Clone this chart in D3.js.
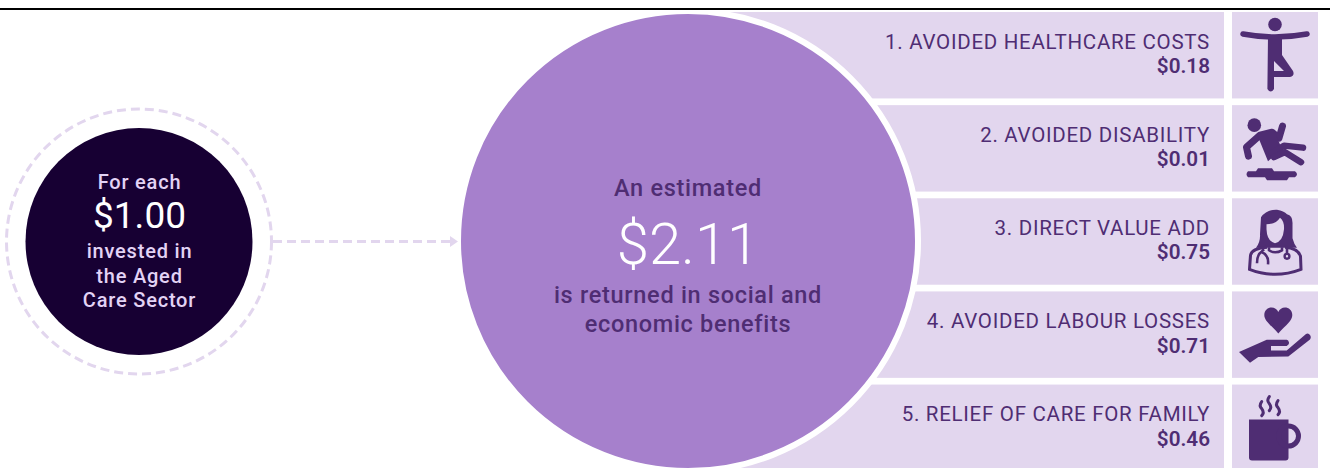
<!DOCTYPE html>
<html>
<head>
<meta charset="utf-8">
<script src="https://cdn.jsdelivr.net/npm/d3@7"></script>
<style>
html,body{margin:0;padding:0;background:#fff;}
svg{display:block;}
text{font-family:Roboto,"Liberation Sans",sans-serif;}
</style>
</head>
<body>
<svg id="chart" width="1330" height="468"></svg>
<script>
// Social return on investment: one dollar in, five benefit streams out.
const benefitNames = [
  "1. AVOIDED HEALTHCARE COSTS",
  "2. AVOIDED DISABILITY",
  "3. DIRECT VALUE ADD",
  "4. AVOIDED LABOUR LOSSES",
  "5. RELIEF OF CARE FOR FAMILY"
];
const benefitValues = [0.18, 0.01, 0.75, 0.71, 0.46];
const investedValue = 1.00;
const investedLines = ["invested in", "the Aged", "Care Sector"];
const returnLines = ["is returned in social and", "economic benefits"];

const LILAC = "#E2D6EE", PURPLE = "#4F2D73", MID = "#A680CC", NIGHT = "#170033", PALE = "#E3D3F5";
const money = d3.format("$.2f");
const svg = d3.select("#chart");

// Benefit rows
const rowY = d3.scaleBand().domain(benefitNames).range([12, 471]).paddingInner(0.072).paddingOuter(0).align(0);
const rows = svg.selectAll("g.row").data(benefitNames).join("g").attr("class", "row")
  .attr("transform", d => `translate(0,${rowY(d)})`);
rows.append("rect").attr("x", 700).attr("width", 524).attr("height", rowY.bandwidth()).attr("fill", LILAC);
rows.append("rect").attr("x", 1232).attr("width", 86).attr("height", rowY.bandwidth()).attr("fill", LILAC);
rows.append("text").attr("x", 1210).attr("y", 36.6).attr("text-anchor", "end")
  .attr("font-size", 20.5).attr("fill", PURPLE).attr("letter-spacing", 0.72).attr("font-weight", 400).text(d => d);
rows.append("text").attr("x", 1210).attr("y", 61.2).attr("text-anchor", "end")
  .attr("font-size", 20.7).attr("font-weight", 600).attr("fill", PURPLE)
  .text((d, i) => money(benefitValues[i]));

// Pictograms, each in an 86-unit box beside its row
const limb = (g, d, w) => g.append("path").attr("d", d).attr("fill", "none").attr("stroke", PURPLE)
  .attr("stroke-width", w).attr("stroke-linecap", "round").attr("stroke-linejoin", "round");
const icons = [
  g => { // balancing figure
    g.append("circle").attr("cx", 43).attr("cy", 12.5).attr("r", 6.8).attr("fill", PURPLE);
    limb(g, "M11 22 Q43 28 75 22", 5.5);
    g.append("path").attr("d", "M36 24 L50 24 L50 43 L61 59 Q63 64 58 65 L42 65 L42 77 Q38.7 82 35.4 77 Z M42 49 L42 59 L52 59 Z").attr("fill", PURPLE).attr("fill-rule", "evenodd");
  },
  g => { // slipping figure and puddle
    g.append("circle").attr("cx", 22.3).attr("cy", 20).attr("r", 6.8).attr("fill", PURPLE);
    limb(g, "M16.5 51 L14.5 42 L28 30 L40 27 L47 33 L50.5 21", 7);
    g.append("path").attr("d", "M25 29 L42 25 L50 44 L36 56 Z").attr("fill", PURPLE);
    limb(g, "M40 48 L52 40.5 L71 42.5", 6.5);
    limb(g, "M42 52 L53 47 L69 57", 6.5);
    g.append("path").attr("d", "M16 66 Q13 69 16 72 L33 72 L35 75 L55 75 L57 72 L63 72 Q67 69 63 66 L42 66 L40 63 L26 63 L24 66 Z").attr("fill", PURPLE);
  },
  g => { // clinician with stethoscope
    g.append("path").attr("d", "M29 19 Q35 11 45 11.5 Q52 12.5 55 16 Q61 17 60.5 26 L60.5 40 Q62 46 65 49.5 L24 49.5 Q28.5 44 28 36 Z").attr("fill", PURPLE);
    g.append("path").attr("d", "M34.5 26 Q44 26 48 19.5 Q52.5 23 52 31 Q51 43 43 45 Q35 43 34.5 31 Z").attr("fill", LILAC);
    g.append("path").attr("d", "M35 49 Q20 50 18.5 57 L17.5 71 Q43 81 69 71 L68.5 58 Q66 50 53 49").attr("fill", "none").attr("stroke", PURPLE).attr("stroke-width", 3);
    g.append("path").attr("d", "M37 49 L37 52 Q43 56 50 52 L50 49").attr("fill", "none").attr("stroke", PURPLE).attr("stroke-width", 2.6);
    g.append("path").attr("d", "M32 51 L30 53 Q25 56 25 65 M30 54 Q37 57 36 66").attr("fill", "none").attr("stroke", PURPLE).attr("stroke-width", 2.6);
    g.append("path").attr("d", "M55 49 L55 55").attr("stroke", PURPLE).attr("stroke-width", 2.6);
    g.append("circle").attr("cx", 55).attr("cy", 58).attr("r", 2.4).attr("fill", "none").attr("stroke", PURPLE).attr("stroke-width", 2.4);
  },
  g => { // open hand holding a heart
    g.append("path").attr("d", "M46.3 42 C38 33 32.3 29 32.3 23.5 C32.3 18.5 36 16 39.5 16 C42.5 16 45 17.5 46.3 20.5 C47.6 17.5 50 16 53 16 C56.6 16 60.3 18.5 60.3 23.5 C60.3 29 54.5 33 46.3 42 Z").attr("fill", PURPLE);
    g.append("path").attr("d", "M7 60.7 L18 71.3 L26.3 65.7 L56.3 65 L78 48 Q80 45 77 42.5 Q75.5 41.5 74 42.5 L54.7 59 L39 59 L39 54.7 L54.7 54.7 Q57.5 53 57 51 Q56.5 48.3 54.7 48.3 L34.7 48.3 Z").attr("fill", PURPLE);
  },
  g => { // steaming mug
    g.append("path").attr("d", "M17 35 L56.5 35 L56.5 73 Q56.5 76 53.5 76 L20 76 Q17 76 17 73 Z").attr("fill", PURPLE);
    g.append("circle").attr("cx", 56.5).attr("cy", 51.5).attr("r", 10).attr("fill", "none").attr("stroke", PURPLE).attr("stroke-width", 5);
    [[28.7, 17], [36.3, 12], [45, 16]].forEach(([x, y]) =>
      limb(g, `M${x + 1} ${y} q-3 4 0 7 q3 4 0 7`, 3));
  }
];
rows.append("g").attr("transform", "translate(1232,0)").each(function (d, i) { icons[i](d3.select(this)); });

// Return circle with its white keyline
const cx2 = 688, cy2 = 241, r2 = 227;
svg.append("circle").attr("cx", cx2).attr("cy", cy2).attr("r", r2 + 3)
  .attr("fill", MID).attr("stroke", "#fff").attr("stroke-width", 6);
const mid = svg.append("g").attr("text-anchor", "middle").attr("fill", PURPLE);
mid.append("text").attr("x", cx2).attr("y", 196).attr("font-size", 23.5).attr("font-weight", 500).attr("letter-spacing", 0.7).text("An estimated");
mid.append("text").attr("x", cx2).attr("y", 264).attr("font-size", 58).attr("font-weight", 300).attr("fill", "#fff")
  .text(money(d3.sum(benefitValues)));
mid.selectAll("text.line").data(returnLines).join("text").attr("class", "line")
  .attr("x", cx2).attr("y", (d, i) => 303 + i * 29).attr("font-size", 23.5).attr("font-weight", 500).attr("letter-spacing", 0.7).text(d => d);

// Investment circle, dashed halo and connector
const cx1 = 139, cy1 = 241.5, tx1 = 139.5;
svg.append("circle").attr("cx", cx1).attr("cy", cy1).attr("r", 132.5)
  .attr("fill", "none").attr("stroke", LILAC).attr("stroke-width", 3).attr("stroke-dasharray", "9 5");
svg.append("circle").attr("cx", cx1).attr("cy", cy1).attr("r", 113.5).attr("fill", NIGHT);
const left = svg.append("g").attr("text-anchor", "middle").attr("fill", PALE);
left.append("text").attr("x", tx1).attr("y", 189).attr("font-size", 20).attr("font-weight", 500).attr("letter-spacing", 0.8).text("For each");
left.append("text").attr("x", tx1).attr("y", 228).attr("font-size", 37).attr("fill", "#fff").text(money(investedValue));
left.selectAll("text.line").data(investedLines).join("text").attr("class", "line")
  .attr("x", tx1).attr("y", (d, i) => 258 + i * 24.5).attr("font-size", 20).attr("font-weight", 500).attr("letter-spacing", 0.8).text(d => d);

svg.append("line").attr("x1", 273).attr("x2", 450).attr("y1", 241.5).attr("y2", 241.5)
  .attr("stroke", LILAC).attr("stroke-width", 3).attr("stroke-dasharray", "9 5");
svg.append("path").attr("d", d3.line()([[450, 236], [458, 241.5], [450, 247]]) + "Z").attr("fill", LILAC);

// Rule along the top edge
svg.append("rect").attr("x", 0).attr("y", 8).attr("width", 1330).attr("height", 2).attr("fill", "#000");
</script>
</body>
</html>
